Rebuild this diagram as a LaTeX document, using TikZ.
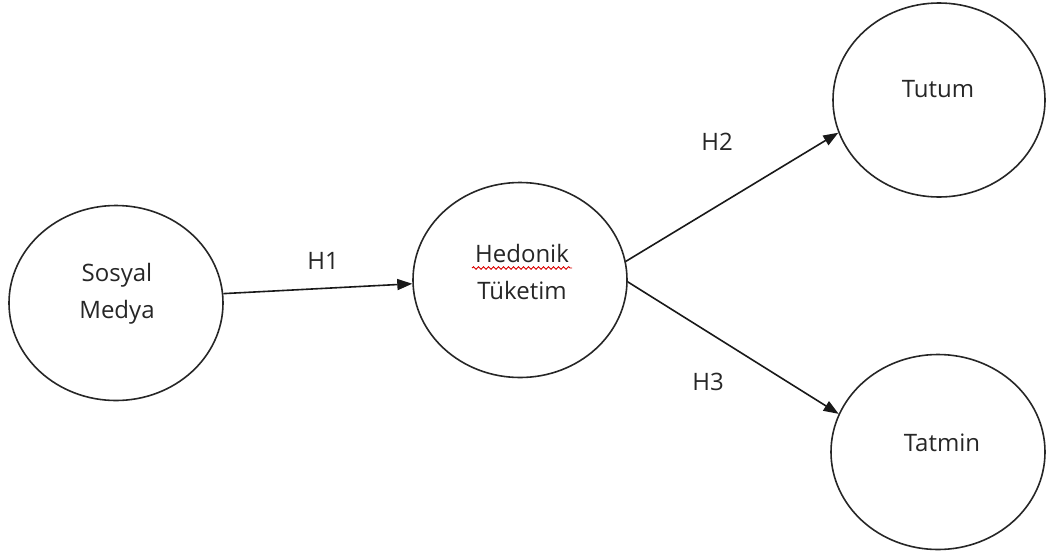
\documentclass[tikz,border=0pt]{standalone}
\usepackage{fontspec}
\setmainfont{Open Sans}
\usetikzlibrary{arrows.meta,shapes.geometric,decorations.pathmorphing}
\begin{document}
\begin{tikzpicture}[x=1pt,y=-1pt,
  var/.style={draw=black!85, ellipse, line width=1.6pt, minimum width=214pt, minimum height=195pt, inner sep=0pt},
  txt/.style={font=\fontsize{24}{37}\selectfont, align=center, text=black!85, inner sep=0pt},
  link/.style={draw=black!90, line width=1.6pt, -{Triangle[length=15pt,width=11pt]}},
  squiggle/.style={draw=red!85!black, line width=0.9pt, decorate, decoration={snake, segment length=5pt, amplitude=1.3pt}}]
\useasboundingbox (0,0) rectangle (1047,555);
\node[var] (sm) at (116,303) {};
\node[var] (hk) at (520,280) {};
\node[var, minimum width=212pt, minimum height=194pt] (tu) at (939,100) {};
\node[var] (ta) at (938,452) {};
\node[txt] (smt) at (117,294) {Sosyal\\Medya};
\node[txt] (hkt) at (522,272) {Hedonik\\Tüketim};
\node[txt] (tut) at (938,89) {Tutum};
\node[txt] (tat) at (942,443) {Tatmin};
\draw[squiggle] (472,268) -- (572,268);
\draw[link] (sm.5) -- (hk.182);
\draw[link] (hk.10) -- (tu.198);
\draw[link] (hk.-1) -- (ta.159);
\node[txt] (h1) at (323,261) {H1};
\node[txt] (h2) at (717,142) {H2};
\node[txt] (h3) at (708,382) {H3};
\end{tikzpicture}
\end{document}
